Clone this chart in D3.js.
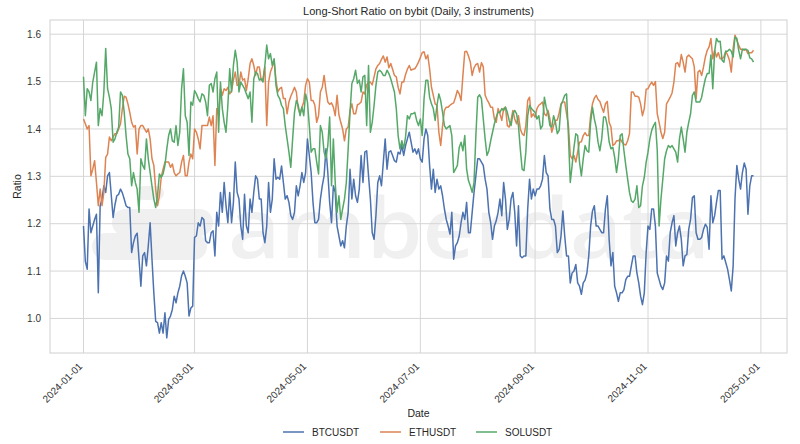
<!DOCTYPE html>
<html>
<head>
<meta charset="utf-8">
<script src="https://cdn.jsdelivr.net/npm/d3@7"></script>
<style>
  html, body { margin: 0; padding: 0; background: #ffffff; }
  svg { display: block; font-family: "Liberation Sans", Arial, sans-serif; }
</style>
</head>
<body>
<svg id="chart" width="800" height="444"></svg>
<script>
// ---------------- DATA ----------------
const startDay = "2024-01-01";   // first daily observation
const seriesNames = ["BTCUSDT", "ETHUSDT", "SOLUSDT"];
const seriesColors = ["#4C72B0", "#DD8452", "#55A868"];
const xTickLabels = ["2024-01-01", "2024-03-01", "2024-05-01", "2024-07-01", "2024-09-01", "2024-11-01", "2025-01-01"];
const yTickValues = [1.0, 1.1, 1.2, 1.3, 1.4, 1.5, 1.6];

const btcValues = [
1.195,1.120,1.104,1.231,1.181,1.195,1.209,1.220,1.054,1.238,
1.252,1.280,1.266,1.301,1.308,1.260,1.213,1.240,1.259,1.262,
1.273,1.265,1.252,1.238,1.234,1.234,1.139,1.160,1.174,1.180,
1.125,1.068,1.132,1.139,1.111,1.153,1.202,1.125,1.054,0.994,
0.991,0.969,0.991,0.969,1.012,0.959,0.998,1.005,1.019,1.047,
1.033,1.054,1.068,1.090,1.100,1.089,1.075,1.005,1.022,1.026,
1.171,1.174,1.202,1.195,1.213,1.209,1.164,1.160,1.160,1.181,
1.185,1.132,1.224,1.195,1.266,1.224,1.287,1.238,1.202,1.266,
1.202,1.245,1.330,1.266,1.252,1.195,1.167,1.262,1.195,1.181,
1.252,1.224,1.266,1.301,1.294,1.252,1.252,1.181,1.160,1.195,
1.287,1.224,1.252,1.337,1.294,1.298,1.294,1.322,1.287,1.252,
1.259,1.245,1.217,1.209,1.224,1.280,1.259,1.280,1.308,1.287,
1.308,1.379,1.344,1.308,1.245,1.202,1.202,1.209,1.252,1.280,
1.301,1.358,1.308,1.245,1.202,1.280,1.266,1.195,1.174,1.153,
1.164,1.149,1.195,1.224,1.315,1.252,1.294,1.259,1.245,1.273,
1.344,1.287,1.351,1.354,1.301,1.252,1.181,1.167,1.217,1.287,
1.301,1.280,1.330,1.379,1.315,1.351,1.354,1.344,1.333,1.330,
1.351,1.347,1.365,1.344,1.365,1.379,1.393,1.372,1.351,1.358,
1.347,1.358,1.337,1.330,1.379,1.400,1.386,1.323,1.273,1.315,
1.266,1.294,1.273,1.280,1.259,1.231,1.209,1.195,1.178,1.224,
1.125,1.153,1.160,1.174,1.202,1.224,1.209,1.245,1.181,1.181,
1.224,1.266,1.301,1.337,1.337,1.330,1.323,1.294,1.273,1.224,
1.202,1.167,1.195,1.206,1.224,1.252,1.217,1.287,1.252,1.188,
1.209,1.252,1.266,1.224,1.153,1.238,1.132,1.128,1.132,1.132,
1.231,1.294,1.252,1.273,1.259,1.273,1.273,1.280,1.294,1.344,
1.308,1.301,1.231,1.209,1.209,1.195,1.139,1.146,1.174,1.227,
1.174,1.132,1.132,1.075,1.096,1.100,1.114,1.075,1.068,1.051,
1.075,1.081,1.096,1.132,1.195,1.227,1.238,1.195,1.195,1.188,
1.181,1.181,1.231,1.259,1.167,1.111,1.139,1.068,1.054,1.036,
1.054,1.054,1.061,1.082,1.089,1.089,1.111,1.132,1.132,1.096,
1.075,1.047,1.029,1.054,1.139,1.195,1.188,1.231,1.231,1.195,
1.096,1.082,1.068,1.061,1.075,1.132,1.121,1.181,1.202,1.217,
1.153,1.181,1.195,1.167,1.111,1.132,1.135,1.188,1.209,1.255,
1.259,1.181,1.167,1.167,1.171,1.188,1.199,1.192,1.146,1.259,
1.202,1.217,1.245,1.270,1.270,1.125,1.132,1.118,1.104,1.082,
1.058,1.111,1.252,1.323,1.294,1.273,1.308,1.328,1.315,1.220,
1.280,1.301,1.301
];

const ethValues = [
1.421,1.411,1.400,1.407,1.301,1.315,1.333,1.287,1.238,1.273,
1.238,1.266,1.340,1.347,1.383,1.375,1.383,1.390,1.390,1.400,
1.411,1.443,1.469,1.467,1.453,1.435,1.414,1.404,1.407,1.347,
1.400,1.407,1.407,1.400,1.393,1.400,1.379,1.337,1.323,1.273,
1.238,1.259,1.298,1.315,1.330,1.330,1.330,1.319,1.326,1.308,
1.301,1.305,1.308,1.330,1.344,1.301,1.301,1.330,1.347,1.337,
1.400,1.393,1.379,1.358,1.407,1.407,1.407,1.407,1.425,1.407,
1.428,1.323,1.443,1.428,1.485,1.471,1.485,1.481,1.488,1.474,
1.481,1.503,1.520,1.492,1.492,1.520,1.503,1.506,1.481,1.506,
1.538,1.548,1.534,1.513,1.531,1.531,1.503,1.506,1.531,1.407,
1.499,1.520,1.531,1.545,1.503,1.478,1.485,1.488,1.464,1.464,
1.432,1.457,1.469,1.478,1.488,1.478,1.443,1.432,1.446,1.457,
1.492,1.506,1.499,1.460,1.460,1.450,1.414,1.428,1.478,1.488,
1.513,1.481,1.457,1.452,1.455,1.446,1.428,1.471,1.430,1.414,
1.400,1.375,1.400,1.404,1.439,1.453,1.432,1.432,1.451,1.453,
1.457,1.478,1.474,1.493,1.499,1.499,1.493,1.510,1.527,1.534,
1.538,1.547,1.554,1.541,1.552,1.529,1.538,1.526,1.513,1.510,
1.488,1.474,1.499,1.499,1.515,1.526,1.534,1.524,1.526,1.527,
1.533,1.541,1.551,1.561,1.563,1.548,1.556,1.527,1.488,1.471,
1.453,1.450,1.393,1.365,1.407,1.439,1.446,1.446,1.450,1.453,
1.455,1.467,1.481,1.474,1.460,1.513,1.563,1.564,1.554,1.541,
1.513,1.529,1.536,1.538,1.520,1.540,1.531,1.471,1.462,1.455,
1.446,1.446,1.421,1.414,1.443,1.432,1.418,1.443,1.446,1.407,
1.404,1.418,1.439,1.421,1.411,1.428,1.400,1.390,1.386,1.407,
1.460,1.467,1.425,1.432,1.425,1.443,1.450,1.453,1.457,1.432,
1.428,1.439,1.421,1.393,1.407,1.418,1.419,1.434,1.453,1.457,
1.457,1.432,1.407,1.344,1.337,1.344,1.330,1.351,1.372,1.373,
1.386,1.392,1.386,1.386,1.428,1.453,1.465,1.471,1.462,1.458,
1.446,1.435,1.453,1.458,1.414,1.404,1.365,1.368,1.375,1.375,
1.379,1.372,1.368,1.366,1.375,1.390,1.478,1.478,1.469,1.469,
1.467,1.453,1.428,1.443,1.484,1.485,1.493,1.499,1.492,1.500,
1.432,1.414,1.393,1.380,1.393,1.453,1.460,1.467,1.476,1.499,
1.538,1.540,1.531,1.557,1.541,1.520,1.552,1.556,1.552,1.548,
1.531,1.464,1.520,1.524,1.513,1.531,1.552,1.566,1.573,1.591,
1.548,1.566,1.552,1.561,1.548,1.548,1.552,1.564,1.556,1.545,
1.520,1.570,1.598,1.587,1.577,1.568,1.568,1.566,1.568,1.559,
1.561,1.561,1.566
];

const solValues = [
1.510,1.428,1.485,1.478,1.460,1.499,1.520,1.541,1.407,1.443,
1.428,1.478,1.570,1.485,1.467,1.443,1.372,1.379,1.393,1.404,
1.478,1.471,1.435,1.386,1.347,1.337,1.280,1.308,1.287,1.273,
1.224,1.337,1.323,1.315,1.379,1.337,1.308,1.280,1.252,1.234,
1.259,1.305,1.298,1.305,1.323,1.358,1.386,1.400,1.375,1.372,
1.407,1.365,1.393,1.485,1.527,1.428,1.414,1.344,1.457,1.450,
1.481,1.474,1.464,1.457,1.474,1.471,1.457,1.428,1.492,1.496,
1.478,1.506,1.520,1.393,1.499,1.443,1.414,1.393,1.450,1.527,
1.478,1.534,1.566,1.541,1.478,1.499,1.492,1.485,1.474,1.464,
1.478,1.414,1.506,1.520,1.517,1.503,1.506,1.499,1.534,1.577,
1.548,1.559,1.534,1.548,1.492,1.471,1.464,1.450,1.443,1.407,
1.379,1.351,1.319,1.379,1.435,1.460,1.450,1.428,1.446,1.428,
1.474,1.457,1.407,1.351,1.358,1.358,1.330,1.305,1.407,1.393,
1.351,1.337,1.365,1.425,1.280,1.379,1.287,1.224,1.259,1.209,
1.231,1.252,1.287,1.358,1.435,1.496,1.506,1.524,1.496,1.503,
1.478,1.510,1.513,1.407,1.534,1.393,1.414,1.450,1.492,1.520,
1.524,1.520,1.513,1.513,1.524,1.517,1.506,1.492,1.478,1.443,
1.386,1.358,1.375,1.358,1.383,1.428,1.421,1.432,1.432,1.435,
1.418,1.407,1.421,1.386,1.464,1.503,1.503,1.467,1.453,1.443,
1.418,1.450,1.474,1.460,1.435,1.407,1.400,1.404,1.407,1.386,
1.308,1.315,1.323,1.361,1.372,1.354,1.386,1.315,1.291,1.280,
1.266,1.287,1.386,1.467,1.472,1.464,1.421,1.379,1.344,1.354,
1.375,1.393,1.411,1.425,1.435,1.435,1.443,1.439,1.446,1.435,
1.418,1.407,1.432,1.439,1.432,1.407,1.358,1.315,1.312,1.351,
1.428,1.450,1.443,1.439,1.435,1.421,1.428,1.400,1.407,1.467,
1.446,1.432,1.407,1.404,1.428,1.414,1.390,1.397,1.450,1.460,
1.471,1.474,1.386,1.287,1.323,1.361,1.390,1.386,1.330,1.301,
1.337,1.365,1.354,1.351,1.414,1.446,1.421,1.404,1.372,1.354,
1.379,1.425,1.425,1.407,1.373,1.358,1.361,1.340,1.308,1.337,
1.386,1.390,1.354,1.323,1.294,1.266,1.248,1.245,1.252,1.280,
1.234,1.238,1.280,1.298,1.330,1.351,1.379,1.397,1.407,1.414,
1.355,1.195,1.252,1.294,1.337,1.354,1.365,1.361,1.365,1.358,
1.351,1.330,1.379,1.404,1.379,1.351,1.393,1.414,1.432,1.471,
1.478,1.457,1.457,1.457,1.467,1.488,1.506,1.517,1.517,1.556,
1.485,1.563,1.591,1.584,1.585,1.545,1.541,1.564,1.564,1.568,
1.564,1.552,1.594,1.591,1.566,1.548,1.568,1.568,1.568,1.566,
1.550,1.548,1.541
];

// ---------------- CHART ----------------
const W = 800, H = 444;
const margin = { left: 50, right: 13, top: 20, bottom: 91 };
const plotW = W - margin.left - margin.right;
const plotH = H - margin.top - margin.bottom;

const parse = d3.timeParse("%Y-%m-%d");
const first = parse(startDay);
const dates = d3.range(btcValues.length).map(i => d3.timeDay.offset(first, i));
const last = dates[dates.length - 1];
const pad = 0.05 * (last - first);

const series = [btcValues, ethValues, solValues].map((vals, k) => ({
  name: seriesNames[k], color: seriesColors[k],
  points: vals.map((v, i) => ({ date: dates[i], value: v }))
}));

const x = d3.scaleTime()
  .domain([new Date(+first - pad), new Date(+last + pad)])
  .range([margin.left, margin.left + plotW]);

const allVals = btcValues.concat(ethValues, solValues);
const yMin = d3.min(allVals), yMax = d3.max(allVals);
const yPad = 0.05 * (yMax - yMin);
const y = d3.scaleLinear()
  .domain([yMin - yPad, yMax + yPad])
  .range([margin.top + plotH, margin.top]);

const svg = d3.select("#chart");
svg.append("rect").attr("width", W).attr("height", H).attr("fill", "#ffffff");

// watermark (faint logo + wordmark)
const wm = svg.append("g").attr("fill", "#f0f0f0");
[[136, 186, 14, 14], [112, 209, 74, 27], [92, 233, 70, 27], [150, 233, 30, 27]].forEach(c => {
  wm.append("rect").attr("x", c[0]).attr("y", c[1]).attr("width", c[2] + c[3]).attr("height", c[3])
    .attr("rx", c[3] / 2).attr("ry", c[3] / 2);
});
wm.append("text")
  .attr("x", 228).attr("y", 258)
  .attr("font-family", "'Open Sans', Lato, sans-serif")
  .attr("font-weight", 600)
  .attr("font-size", 84)
  .attr("textLength", 482)
  .attr("lengthAdjust", "spacingAndGlyphs")
  .text("amberdata");

// grid
const grid = svg.append("g").attr("stroke", "#d6d6d6").attr("stroke-width", 1);
const xTickDates = xTickLabels.map(parse);
grid.selectAll("line.vx").data(xTickDates).enter().append("line")
  .attr("x1", d => x(d)).attr("x2", d => x(d))
  .attr("y1", margin.top).attr("y2", margin.top + plotH);
grid.selectAll("line.hy").data(yTickValues).enter().append("line")
  .attr("x1", margin.left).attr("x2", margin.left + plotW)
  .attr("y1", d => y(d)).attr("y2", d => y(d));

// frame
svg.append("rect")
  .attr("x", margin.left).attr("y", margin.top)
  .attr("width", plotW).attr("height", plotH)
  .attr("fill", "none").attr("stroke", "#d0d0d0").attr("stroke-width", 1);

// axes labels via d3 axes (no tick marks, no domain)
const xAxis = d3.axisBottom(x).tickValues(xTickDates).tickFormat(d3.timeFormat("%Y-%m-%d")).tickSize(0);
const gx = svg.append("g").attr("transform", `translate(0,${margin.top + plotH})`).call(xAxis);
gx.select(".domain").remove();
gx.selectAll("text")
  .attr("fill", "#333").attr("font-size", 10)
  .attr("font-family", "'Liberation Sans', Arial, sans-serif")
  .attr("text-anchor", "end")
  .attr("dy", null).attr("y", null)
  .attr("transform", "translate(-1,14) rotate(-45)");

const yAxis = d3.axisLeft(y).tickValues(yTickValues).tickFormat(d3.format(".1f")).tickSize(0).tickPadding(9);
const gy = svg.append("g").attr("transform", `translate(${margin.left},0)`).call(yAxis);
gy.select(".domain").remove();
gy.selectAll("text").attr("fill", "#333").attr("font-size", 10)
  .attr("font-family", "'Liberation Sans', Arial, sans-serif");

// lines
const line = d3.line().x(d => x(d.date)).y(d => y(d.value));
svg.append("g").selectAll("path").data(series).enter().append("path")
  .attr("d", d => line(d.points))
  .attr("fill", "none")
  .attr("stroke", d => d.color)
  .attr("stroke-width", 1.5)
  .attr("stroke-linejoin", "round");

// title & axis titles
svg.append("text").attr("x", margin.left + plotW / 2).attr("y", 15)
  .attr("text-anchor", "middle").attr("font-size", 11).attr("fill", "#262626")
  .text("Long-Short Ratio on bybit (Daily, 3 instruments)");
svg.append("text").attr("x", margin.left + plotW / 2).attr("y", 417)
  .attr("text-anchor", "middle").attr("font-size", 10.5).attr("fill", "#262626")
  .text("Date");
svg.append("text").attr("transform", `translate(21,${margin.top + plotH / 2}) rotate(-90)`)
  .attr("text-anchor", "middle").attr("font-size", 10.5).attr("fill", "#262626")
  .text("Ratio");

// legend
const legendX = [283, 380, 476];
const lg = svg.append("g");
series.forEach((s, i) => {
  const g = lg.append("g").attr("transform", `translate(${legendX[i]},432)`);
  g.append("line").attr("x1", 0).attr("x2", 21).attr("y1", 0).attr("y2", 0)
    .attr("stroke", s.color).attr("stroke-width", 1.5);
  g.append("text").attr("x", 29).attr("y", 3.6).attr("font-size", 10).attr("fill", "#262626")
    .text(s.name);
});
</script>
</body>
</html>
